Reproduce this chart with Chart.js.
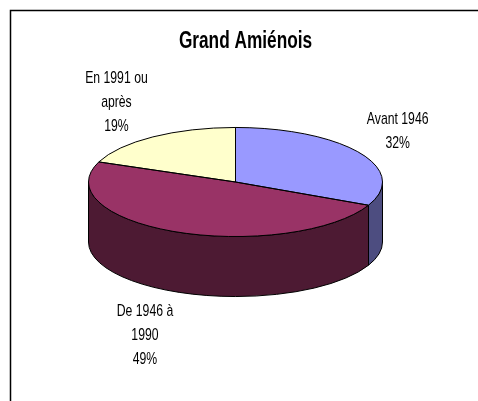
<!DOCTYPE html>
<html>
<head>
<meta charset="utf-8">
<script src="https://cdn.jsdelivr.net/npm/chart.js@4/dist/chart.umd.min.js"></script>
<style>
  html, body { margin: 0; padding: 0; background: #fff; }
  canvas { display: block; }
</style>
</head>
<body>
<canvas id="myChart" width="478" height="401"></canvas>
<script>
// data
const categories = ['Avant 1946', 'De 1946 à 1990', 'En 1991 ou après'];
const shares = [32, 49, 19];
const chartTitle = 'Grand Amiénois';

const topColors = ['#9999FF', '#993366', '#FFFFCC'];
const sideColors = ['#4D4D80', '#4D1A33', '#80806A'];

const TILT = 0.371;   // ellipse height / width
const DEPTH = 60;     // thickness of the pie
const FONT = '"Liberation Sans", Arial, sans-serif';

function narrowText(ctx, text, x, y, sx) {
    ctx.save();
    ctx.translate(x, y);
    ctx.scale(sx, 1);
    ctx.fillText(text, 0, 0);
    ctx.restore();
}

function wrapWords(ctx, text, maxW, sx) {
    const words = text.split(' ');
    const lines = [];
    let cur = '';
    words.forEach(w => {
        const t = cur ? cur + ' ' + w : w;
        if (cur && ctx.measureText(t).width * sx > maxW) {
            lines.push(cur);
            cur = w;
        } else {
            cur = t;
        }
    });
    lines.push(cur);
    return lines;
}

const pie3d = {
    id: 'pie3d',
    beforeDraw(chart) {
        const ctx = chart.ctx;
        ctx.save();
        ctx.strokeStyle = '#000';
        ctx.lineWidth = 1.5;
        ctx.strokeRect(10.5, 10.5, 600, 600);
        ctx.restore();
    },
    beforeDatasetsDraw(chart) {
        const ctx = chart.ctx;
        const arcs = chart.getDatasetMeta(0).data;
        const cx = arcs[0].x, cy = arcs[0].y, rx = arcs[0].outerRadius;
        const ry = rx * TILT;
        // front walls
        ctx.save();
        ctx.strokeStyle = '#000';
        ctx.lineWidth = 1;
        arcs.forEach((arc, i) => {
            for (let k = -1; k <= 1; k++) {
                const lo = Math.max(arc.startAngle, 2 * Math.PI * k);
                const hi = Math.min(arc.endAngle, 2 * Math.PI * k + Math.PI);
                if (hi <= lo) continue;
                ctx.beginPath();
                ctx.moveTo(cx + rx * Math.cos(lo), cy + ry * Math.sin(lo));
                ctx.ellipse(cx, cy, rx, ry, 0, lo, hi);
                ctx.lineTo(cx + rx * Math.cos(hi), cy + DEPTH + ry * Math.sin(hi));
                ctx.ellipse(cx, cy + DEPTH, rx, ry, 0, hi, lo, true);
                ctx.closePath();
                ctx.fillStyle = sideColors[i];
                ctx.fill();
                ctx.stroke();
            }
        });
        ctx.restore();
        // squash the top face into an ellipse
        ctx.save();
        ctx.translate(cx, cy);
        ctx.scale(1, TILT);
        ctx.translate(-cx, -cy);
    },
    afterDatasetsDraw(chart) {
        const ctx = chart.ctx;
        ctx.restore();
        const arcs = chart.getDatasetMeta(0).data;
        const cx = arcs[0].x, cy = arcs[0].y, rx = arcs[0].outerRadius;
        const ry = rx * TILT;
        ctx.save();
        ctx.strokeStyle = '#000';
        ctx.lineWidth = 1;
        arcs.forEach(arc => {
            const a = arc.startAngle, b = arc.endAngle;
            ctx.beginPath();
            ctx.moveTo(cx, cy);
            ctx.lineTo(cx + rx * Math.cos(a), cy + ry * Math.sin(a));
            ctx.ellipse(cx, cy, rx, ry, 0, a, b);
            ctx.closePath();
            ctx.stroke();
        });
        ctx.restore();
    },
    afterDraw(chart) {
        const ctx = chart.ctx;
        const arcs = chart.getDatasetMeta(0).data;
        const cx = arcs[0].x, cy = arcs[0].y, rx = arcs[0].outerRadius;
        const ry = rx * TILT;
        const total = shares.reduce((s, v) => s + v, 0);
        ctx.save();
        ctx.fillStyle = '#000';
        ctx.textAlign = 'center';
        ctx.textBaseline = 'middle';

        ctx.font = 'bold 23px ' + FONT;
        narrowText(ctx, chartTitle, 245.5, 42, 0.75);

        ctx.font = '17px ' + FONT;
        const sx = 0.72, lh = 24;
        arcs.forEach((arc, i) => {
            const mid = (arc.startAngle + arc.endAngle) / 2;
            const c = Math.cos(mid), s = Math.sin(mid);
            const lines = wrapWords(ctx, categories[i], 70, sx);
            lines.push(Math.round(shares[i] / total * 100) + '%');
            let w = 0;
            lines.forEach(l => { w = Math.max(w, ctx.measureText(l).width * sx); });
            const h = (lines.length - 1) * lh + 12;
            const below = s > 0;
            const ax = cx + rx * 1.05 * c;
            const ay = cy + ry * 1.05 * s + (below ? DEPTH : 0);
            const lx = ax + Math.sign(c) * (w / 2 + 1);
            const ly = ay + Math.sign(s) * (h / 2 + (below ? 11 : 2));
            lines.forEach((l, j) => {
                narrowText(ctx, l, lx, ly - h / 2 + 6 + j * lh, sx);
            });
        });
        ctx.restore();
    }
};

const ctx = document.getElementById('myChart').getContext('2d');
const myChart = new Chart(ctx, {
    type: 'pie',
    data: {
        labels: categories,
        datasets: [{
            data: shares,
            backgroundColor: topColors,
            borderWidth: 0,
            hoverOffset: 0,
            clip: false
        }]
    },
    options: {
        responsive: false,
        animation: false,
        layout: {
            padding: { left: 88, right: 95, top: 35, bottom: 72 }
        },
        plugins: {
            legend: { display: false },
            tooltip: { enabled: false },
            title: { display: false }
        }
    },
    plugins: [pie3d]
});
</script>
</body>
</html>
